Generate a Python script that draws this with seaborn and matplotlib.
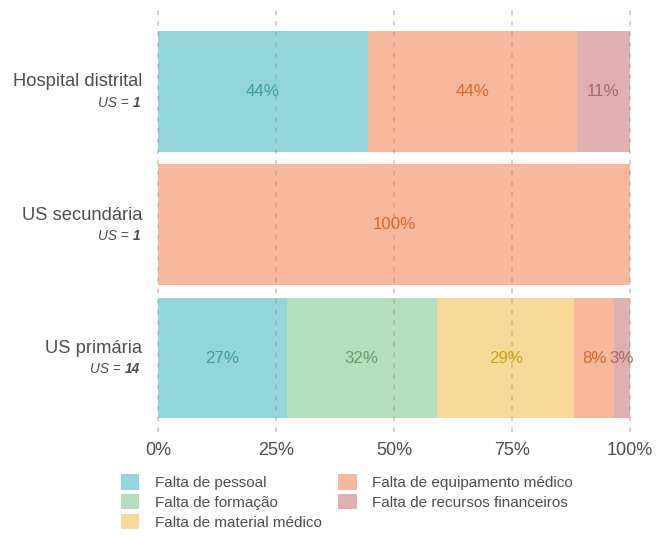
import pandas as pd
import seaborn as sns
import matplotlib.pyplot as plt
from matplotlib.patches import Patch

facilities = ['Hospital distrital', 'US secundária', 'US primária']
n_units = [1, 1, 14]
problems = ['Falta de pessoal', 'Falta de formação', 'Falta de material médico',
            'Falta de equipamento médico', 'Falta de recursos financeiros']

pessoal = [44.4, 0, 27.3]
formacao = [0, 0, 31.8]
material = [0, 0, 29.1]
equipamento = [44.4, 100, 8.4]
recursos = [11.1, 0, 3.4]

fill_colors = ['#93D5DB', '#B4DFBD', '#F7DA9A', '#F8B89C', '#E0AFB0']
text_colors = ['#3F9AA1', '#5E9E66', '#C9A21C', '#D26A22', '#A8676A']

sns.set_theme(style='white')
plt.rcParams['font.family'] = ['Liberation Sans', 'DejaVu Sans']
grey = '#4D4D4D'

df = pd.DataFrame({'facility': facilities, 'n': n_units})
for p, vals in zip(problems, [pessoal, formacao, material, equipamento, recursos]):
    df[p] = vals

cum = df[problems].cumsum(axis=1)

fig = plt.figure(figsize=(6.56, 5.36), dpi=100)
ax = fig.add_axes([158 / 656, 1 - 432 / 536, 472 / 656, 422 / 536])

# stacked bars: draw cumulative totals from the outermost layer inwards
for i in reversed(range(len(problems))):
    p = problems[i]
    sub = pd.DataFrame({'facility': df['facility'], 'cum': cum[p], 'v': df[p]})
    sub = sub[sub['v'] > 0]
    sns.barplot(data=sub, x='cum', y='facility', order=facilities, orient='h',
                color=fill_colors[i], saturation=1, width=0.907,
                linewidth=0, ax=ax, zorder=1)

for row in range(len(facilities)):
    for i, p in enumerate(problems):
        v = df.loc[row, p]
        if v <= 0:
            continue
        mid = cum.loc[row, p] - v / 2
        ax.text(mid, row, f'{round(v)}%', ha='center', va='center',
                fontsize=12.2, color=text_colors[i], zorder=4)

ax.set_xlim(0, 100)
ax.set_ylim(2.555, -0.611)
ax.set_xticks([0, 25, 50, 75, 100])
ax.set_xticklabels(['0%', '25%', '50%', '75%', '100%'])
ax.tick_params(axis='x', length=0, pad=7, labelsize=13, labelcolor=grey)
ax.set_yticks([])
ax.set_xlabel('')
ax.set_ylabel('')
for s in ax.spines.values():
    s.set_visible(False)

ax.set_axisbelow(False)
ax.xaxis.grid(True, linestyle=(0, (3, 4)), color='#8C8C8C', alpha=0.5, linewidth=1.1, zorder=3)
for gl in ax.get_xgridlines():
    gl.set_clip_on(False)

# two-line category labels
for row, (name, n) in enumerate(zip(facilities, n_units)):
    ax.annotate(name, xy=(0, row), xycoords=('axes fraction', 'data'),
                xytext=(-11.5, 6.8), textcoords='offset points',
                ha='right', va='center', fontsize=13.2, color=grey)
    t = ax.annotate(str(n), xy=(0, row), xycoords=('axes fraction', 'data'),
                    xytext=(-13, -8.2), textcoords='offset points',
                    ha='right', va='center', fontsize=9.8, color=grey,
                    style='italic', weight='bold')
    ax.annotate('US = ', xy=(0, 0.5), xycoords=t, ha='right', va='center',
                fontsize=9.8, color=grey, style='italic')

handles = [Patch(facecolor=c, edgecolor='none') for c in fill_colors]
fig.legend(handles, problems, ncol=2, loc='upper left',
           bbox_to_anchor=(121 / 656, 1 - 474 / 536), frameon=False,
           fontsize=11, handlelength=1.2, handleheight=1.2, handletextpad=1.0,
           labelspacing=0.25, columnspacing=1.1, borderpad=0, borderaxespad=0,
           labelcolor=grey)

plt.savefig('out.png', dpi=100)
plt.close()
